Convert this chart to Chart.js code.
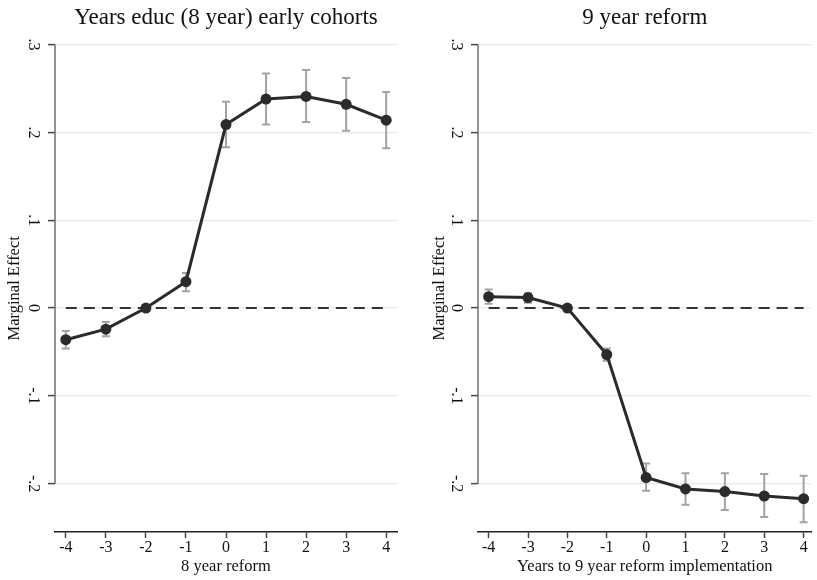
<!DOCTYPE html>
<html>
<head>
<meta charset="utf-8">
<script src="https://cdn.jsdelivr.net/npm/chart.js@4.4.1/dist/chart.umd.min.js"></script>
<style>
  body { margin: 0; background: #fff; }
  #wrap { position: relative; width: 817px; height: 580px; }
  canvas { position: absolute; top: 0; }
</style>
</head>
<body>
<div id="wrap">
  <canvas id="left" width="410" height="580" style="left:0"></canvas>
  <canvas id="right" width="407" height="580" style="left:410px"></canvas>
</div>
<script>
const years = [-4, -3, -2, -1, 0, 1, 2, 3, 4];

// 8 year reform
const eff8 = [-0.036, -0.024, 0, 0.030, 0.209, 0.238, 0.241, 0.232, 0.214];
const lo8  = [-0.046, -0.032, null, 0.019, 0.183, 0.209, 0.212, 0.202, 0.182];
const hi8  = [-0.026, -0.016, null, 0.040, 0.235, 0.267, 0.271, 0.262, 0.246];

// 9 year reform
const eff9 = [0.013, 0.012, 0, -0.053, -0.193, -0.206, -0.209, -0.214, -0.217];
const lo9  = [0.005, 0.006, null, -0.060, -0.208, -0.224, -0.230, -0.238, -0.244];
const hi9  = [0.021, 0.017, null, -0.046, -0.177, -0.188, -0.188, -0.189, -0.191];

const yTicks = [-0.2, -0.1, 0, 0.1, 0.2, 0.3];
const yTickLabels = ['-.2', '-.1', '0', '.1', '.2', '.3'];

const serif = 'Liberation Serif';

// grey confidence bars with caps, under the points
const errorBars = {
  id: 'errorBars',
  beforeDatasetsDraw(chart, args, opts) {
    const {ctx, scales: {x, y}} = chart;
    ctx.save();
    ctx.strokeStyle = '#a3a3a3';
    ctx.lineWidth = 2;
    years.forEach((yr, i) => {
      if (opts.lo[i] == null) return;
      const px = x.getPixelForValue(yr);
      const top = y.getPixelForValue(opts.hi[i]);
      const bot = y.getPixelForValue(opts.lo[i]);
      ctx.beginPath();
      ctx.moveTo(px, top); ctx.lineTo(px, bot);
      ctx.moveTo(px - 4, top); ctx.lineTo(px + 4, top);
      ctx.moveTo(px - 4, bot); ctx.lineTo(px + 4, bot);
      ctx.stroke();
    });
    ctx.restore();
  }
};

// y axis line only spans the labelled range
const yAxisLine = {
  id: 'yAxisLine',
  afterDraw(chart) {
    const {ctx, chartArea, scales: {y}} = chart;
    ctx.save();
    ctx.strokeStyle = '#6e6e6e';
    ctx.lineWidth = 1.5;
    ctx.beginPath();
    ctx.moveTo(chartArea.left, y.getPixelForValue(yTicks[yTicks.length - 1]));
    ctx.lineTo(chartArea.left, y.getPixelForValue(yTicks[0]));
    ctx.stroke();
    ctx.restore();
  }
};

function makeChart(id, title, xTitle, eff, lo, hi, cfg) {
  return new Chart(document.getElementById(id), {
    type: 'line',
    data: {
      datasets: [{
        data: years.map((yr, i) => ({x: yr, y: eff[i]})),
        borderColor: '#2b2b2b',
        backgroundColor: '#2b2b2b',
        borderWidth: 3,
        pointRadius: 5.5,
        pointBorderWidth: 0,
        tension: 0
      }, {
        data: [{x: years[0], y: 0}, {x: years[years.length - 1], y: 0}],
        borderColor: '#333',
        borderWidth: 2,
        borderDash: [11, 7],
        pointRadius: 0,
        order: 2
      }]
    },
    options: {
      responsive: false,
      animation: false,
      layout: {padding: {left: 0, right: cfg.padRight, top: 0, bottom: 0}},
      plugins: {
        legend: {display: false},
        tooltip: {enabled: false},
        title: {
          display: true,
          fullSize: false,
          text: title,
          color: '#111',
          font: {family: serif, size: 23, weight: 'normal'},
          padding: {top: 4, bottom: 13}
        },
        errorBars: {lo: lo, hi: hi}
      },
      scales: {
        x: {
          type: 'linear',
          min: -4.27,
          max: cfg.xMax,
          afterBuildTicks: s => { s.ticks = years.map(v => ({value: v})); },
          afterFit: s => { s.height = 48; },
          grid: {drawOnChartArea: false, tickLength: 6, tickColor: '#444', tickWidth: 1.5},
          border: {display: true, color: '#222', width: 1.5},
          ticks: {color: '#111', font: {family: serif, size: 16}, padding: 0, maxRotation: 0},
          title: {display: true, text: xTitle, color: '#111',
                  font: {family: serif, size: 16.5}, padding: {top: 0, bottom: 3}}
        },
        y: {
          min: -0.255,
          max: 0.3,
          afterBuildTicks: s => { s.ticks = yTicks.map(v => ({value: v})); },
          afterFit: s => { s.width = cfg.yWidth; },
          grid: {color: '#e8e8e8', lineWidth: 1.2, tickLength: 7, tickColor: '#444', tickWidth: 1.5},
          border: {display: false},
          ticks: {
            color: '#111',
            font: {family: serif, size: 16},
            minRotation: -90,
            maxRotation: -90,
            crossAlign: 'center',
            padding: 6,
            callback: v => yTickLabels[yTicks.findIndex(t => Math.abs(t - v) < 1e-9)]
          },
          title: {display: true, text: 'Marginal Effect', color: '#111',
                  font: {family: serif, size: 16.5}, padding: {top: cfg.yTitlePad, bottom: 0}}
        }
      }
    },
    plugins: [errorBars, yAxisLine]
  });
}

makeChart('left', 'Years educ (8 year) early cohorts', '8 year reform', eff8, lo8, hi8,
  {padRight: 13, xMax: 4.27, yWidth: 55, yTitlePad: 5});
makeChart('right', '9 year reform', 'Years to 9 year reform implementation', eff9, lo9, hi9,
  {padRight: 0, xMax: 4.2, yWidth: 68, yTitlePad: 20});
</script>
</body>
</html>
